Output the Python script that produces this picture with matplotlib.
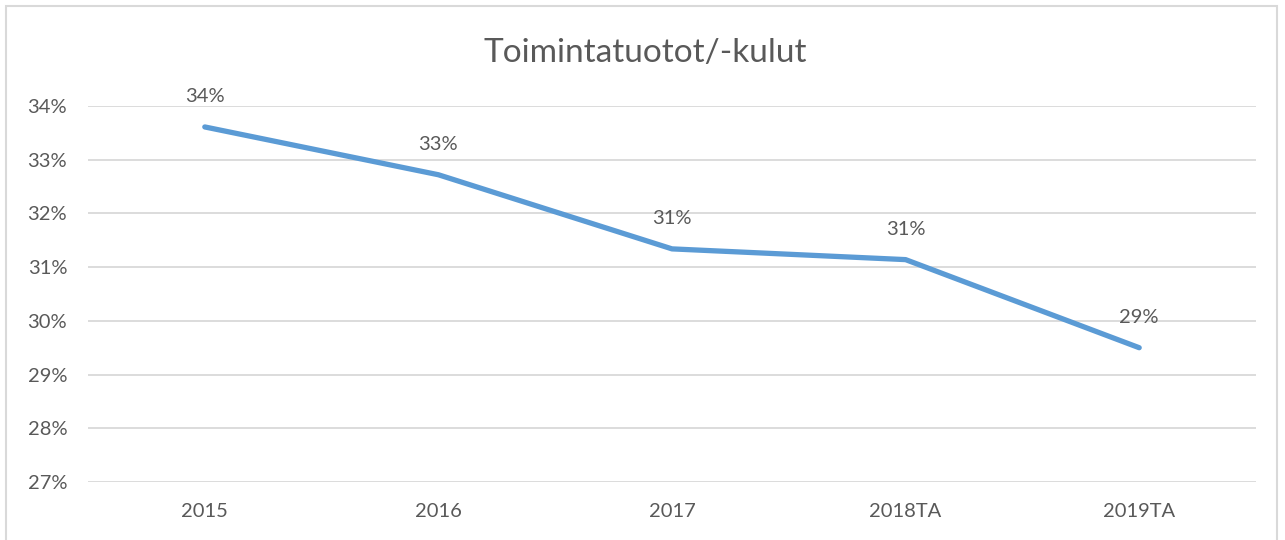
import matplotlib.pyplot as plt
from matplotlib.patches import Rectangle

# chart data
categories = ['2015', '2016', '2017', '2018TA', '2019TA']
ratios = [33.61, 32.72, 31.34, 31.14, 29.50]
data_labels = ['34%', '33%', '31%', '31%', '29%']
y_ticks = [27, 28, 29, 30, 31, 32, 33, 34]

text_color = '#595959'
grid_color = '#d9d9d9'
line_color = '#5b9bd5'

plt.rcParams['font.family'] = ['Lato', 'DejaVu Sans']

fig = plt.figure(figsize=(12.85, 5.4), dpi=100)
ax = fig.add_axes([88 / 1285, 1 - 482 / 540, (1256 - 88) / 1285, (482 - 106) / 540])

# outer chart frame (bottom runs off the image)
fig.patches.append(Rectangle(
    (6 / 1285, -0.05), (1277 - 6) / 1285, 1.05 - 6 / 540,
    transform=fig.transFigure, fill=False, edgecolor=grid_color, linewidth=1.5
))

x = list(range(len(categories)))
ax.plot(x, ratios, color=line_color, linewidth=3.8, solid_capstyle='round', zorder=3)

for xi, yi, lab in zip(x, ratios, data_labels):
    ax.annotate(lab, (xi, yi), xytext=(0, 22), textcoords='offset points',
                ha='center', va='center', fontsize=14.5, color=text_color)

ax.set_xlim(-0.5, len(categories) - 0.5)
ax.set_ylim(27, 34)
ax.set_yticks(y_ticks)
ax.set_yticklabels([f'{t}%' for t in y_ticks])
ax.set_xticks(x)
ax.set_xticklabels(categories)

ax.grid(axis='y', color=grid_color, linewidth=1.3)
ax.set_axisbelow(True)
for s in ax.spines.values():
    s.set_visible(False)
ax.tick_params(length=0, labelsize=14.5, labelcolor=text_color)
ax.tick_params(axis='y', pad=15)
ax.tick_params(axis='x', pad=15)

fig.text(645 / 1285, 1 - 53 / 540, 'Toimintatuotot/-kulut', ha='center', va='center',
         fontsize=24, color=text_color)

fig.savefig('out.png', dpi=100)
